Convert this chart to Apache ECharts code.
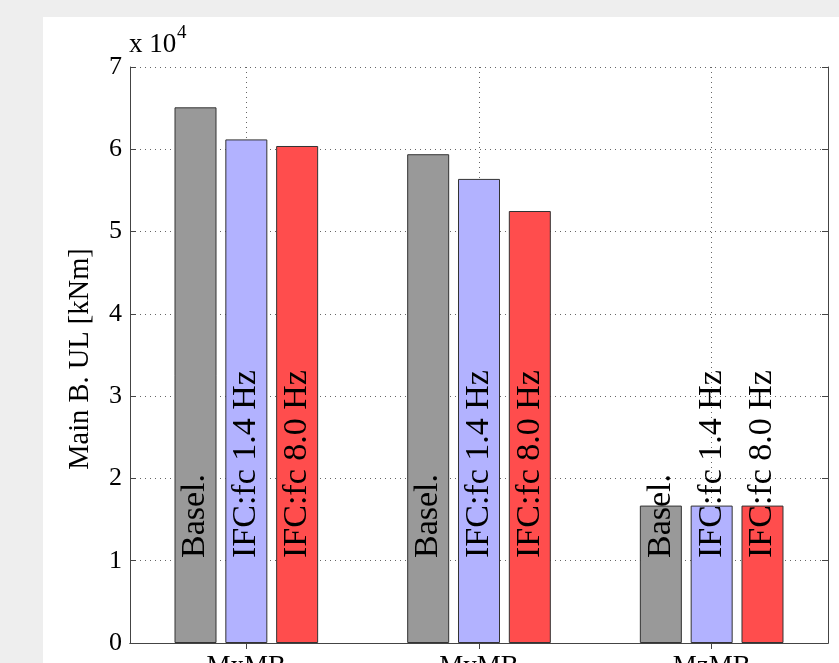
<!DOCTYPE html>
<html>
<head>
<meta charset="utf-8">
<script src="https://cdn.jsdelivr.net/npm/echarts@6/dist/echarts.min.js"></script>
<style>html,body{margin:0;padding:0;background:#eeeeee;}#c{width:839px;height:663px;}</style>
</head>
<body>
<div id="c"></div>
<script>
const categories = ['MxMB', 'MyMB', 'MzMB'];
const seriesNames = ['Basel.', 'IFC:fc 1.4 Hz', 'IFC:fc 8.0 Hz'];
const baselValues = [65100, 59400, 16700];
const ifc14Values = [61200, 56400, 16700];
const ifc80Values = [60400, 52500, 16700];
const yTickLabels = ['0', '1', '2', '3', '4', '5', '6', '7'];
const colors = ['#999999', '#b2b2ff', '#ff4d4d'];
const font = 'Liberation Serif';

const chart = echarts.init(document.getElementById('c'), null, {renderer: 'canvas'});
const allValues = [baselValues, ifc14Values, ifc80Values];

const series = allValues.map((vals, i) => ({
  name: seriesNames[i],
  type: 'bar',
  data: vals,
  barWidth: 42,
  barGap: '21%',
  itemStyle: {color: colors[i], borderColor: '#333333', borderWidth: 1},
  label: {
    show: true,
    position: 'insideBottom',
    distance: 85,
    rotate: 90,
    align: 'left',
    verticalAlign: 'middle',
    formatter: '{s|' + seriesNames[i] + '}',
    fontFamily: font,
    fontSize: 34,
    color: '#000',
    rich: {s: {fontFamily: font, fontSize: 34, color: '#000'}}
  },
  emphasis: {disabled: true},
  animation: false
}));

chart.setOption({
  backgroundColor: '#eeeeee',
  animation: false,
  textStyle: {fontFamily: font},
  graphic: [
    {type: 'rect', z: -10, shape: {x: 43, y: 17, width: 800, height: 650}, style: {fill: '#ffffff'}},
    {type: 'text', left: 129, top: 31, style: {text: 'x 10', font: '27px "Liberation Serif"', fill: '#000'}},
    {type: 'text', left: 177, top: 24, style: {text: '4', font: '19px "Liberation Serif"', fill: '#000'}},
    {type: 'text', x: 81, y: 359, rotation: Math.PI / 2,
      style: {text: 'Main B. UL [kNm]', font: '28.5px "Liberation Serif"', fill: '#000', align: 'center', verticalAlign: 'middle'}}
  ],
  grid: {left: 130, top: 67, right: 11, bottom: 20, containLabel: false, outerBoundsMode: 'none'},
  xAxis: [
    {
      type: 'category',
      data: categories,
      position: 'bottom',
      axisLine: {lineStyle: {color: '#444', width: 1}},
      axisTick: {show: true, inside: true, alignWithLabel: true, length: 6, lineStyle: {color: '#444'}},
      axisLabel: {fontFamily: font, fontSize: 27, color: '#000', margin: 10},
      splitLine: {show: true, alignWithLabel: true, lineStyle: {type: [1, 4], color: '#666', width: 1}}
    },
    {
      type: 'category',
      data: categories,
      position: 'top',
      axisLine: {lineStyle: {color: '#444', width: 1}},
      axisTick: {show: true, inside: true, alignWithLabel: true, length: 6, lineStyle: {color: '#444'}},
      axisLabel: {show: false},
      splitLine: {show: false}
    }
  ],
  yAxis: [
    {
      type: 'value',
      min: 0, max: 70000, interval: 10000,
      axisLine: {show: true, lineStyle: {color: '#444', width: 1}},
      axisTick: {show: true, inside: true, length: 6, lineStyle: {color: '#444'}},
      axisLabel: {fontFamily: font, fontSize: 26, color: '#000', margin: 8,
        formatter: v => yTickLabels[Math.round(v / 10000)]},
      splitLine: {show: true, lineStyle: {type: [1, 4], color: '#666', width: 1}}
    },
    {
      type: 'value',
      position: 'right',
      min: 0, max: 70000, interval: 10000,
      axisLine: {show: true, lineStyle: {color: '#444', width: 1}},
      axisTick: {show: true, inside: true, length: 6, lineStyle: {color: '#444'}},
      axisLabel: {show: false},
      splitLine: {show: false}
    }
  ],
  series: series
});
</script>
</body>
</html>
